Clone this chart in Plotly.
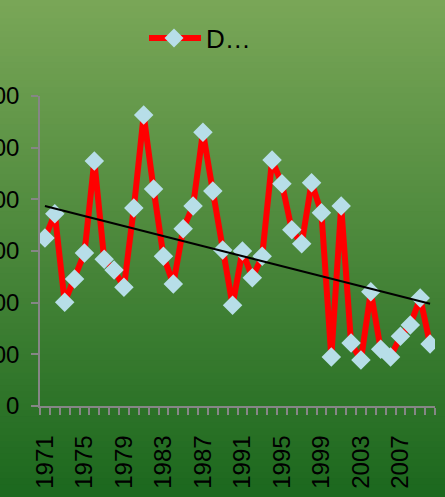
import numpy as np
import plotly.graph_objects as go

years = list(range(1971, 2011))
values = [325, 372, 201, 246, 296, 474, 284, 263, 230, 383,
          563, 420, 290, 236, 343, 387, 530, 416, 302, 195,
          300, 248, 290, 476, 430, 341, 314, 432, 374, 95,
          387, 122, 89, 221, 110, 95, 135, 157, 209, 120]
series_name = "D…"
x_tick_years = list(range(1971, 2011, 4))
y_ticks = [0, 100, 200, 300, 400, 500, 600]

# linear trend of the series
coef = np.polyfit(years, values, 1)
trend = np.polyval(coef, years)

W, H = 445, 497
ml, mr, mt, mb = 40, 10, 96, 91
pw, ph = W - ml - mr, H - mt - mb


def px_x(p):
    return (p - ml) / pw


def px_y(p):
    return (H - mb - p) / ph


fig = go.Figure()
fig.add_trace(go.Scatter(
    x=years, y=values, mode="lines+markers", name=series_name,
    line=dict(color="#ff0000", width=6),
    marker=dict(symbol="diamond", size=15, color="#b7dee8",
                line=dict(width=0)),
    showlegend=False,
))
fig.add_trace(go.Scatter(
    x=years, y=trend, mode="lines", showlegend=False,
    line=dict(color="#000000", width=2), hoverinfo="skip",
))

# vertical gradient background built from strips
top = np.array([122, 167, 88])
bot = np.array([28, 104, 30])
n = 80
shapes = []
for i in range(n):
    f0 = i / n
    f1 = (i + 1) / n
    c = top + (bot - top) * ((f0 + f1) / 2)
    py0 = f0 * H
    py1 = f1 * H + 1
    shapes.append(dict(
        type="rect", xref="paper", yref="paper", layer="below",
        x0=-ml / pw - 0.05, x1=1 + mr / pw + 0.05,
        y0=px_y(py0), y1=px_y(py1),
        fillcolor="rgb(%d,%d,%d)" % tuple(c.astype(int)),
        line=dict(width=0),
    ))

# legend (drawn by hand to match the long sample line)
ly = 38
shapes.append(dict(type="line", xref="paper", yref="paper",
                   x0=px_x(149), x1=px_x(201), y0=px_y(ly), y1=px_y(ly),
                   line=dict(color="#ff0000", width=6)))
cx, r = 174, 9.5
shapes.append(dict(type="path", xref="paper", yref="paper",
                   path="M %f %f L %f %f L %f %f L %f %f Z" % (
                       px_x(cx - r), px_y(ly), px_x(cx), px_y(ly - r),
                       px_x(cx + r), px_y(ly), px_x(cx), px_y(ly + r)),
                   fillcolor="#b7dee8", line=dict(width=0)))

font = dict(family="Liberation Sans, Arial, sans-serif", size=24, color="#000000")

fig.update_layout(
    width=W, height=H,
    margin=dict(l=ml, r=mr, t=mt, b=mb, autoexpand=False),
    paper_bgcolor="rgb(75,136,60)",
    plot_bgcolor="rgba(0,0,0,0)",
    shapes=shapes,
    font=font,
    annotations=[dict(text=series_name, xref="paper", yref="paper",
                      x=px_x(204), y=px_y(ly + 1), xanchor="left",
                      yanchor="middle", showarrow=False,
                      font=dict(size=26, color="#000000"))],
    xaxis=dict(
        range=[1970.5, 2010.5], tickmode="array", tickvals=x_tick_years,
        ticktext=[str(v) for v in x_tick_years], tickangle=-90,
        ticks="", showgrid=False, zeroline=False,
        showline=True, linecolor="#868686", linewidth=1.5,
        ticklabelstandoff=18,
        minor=dict(ticks="outside", tick0=1970.5, dtick=1, ticklen=7,
                   tickcolor="#868686", tickwidth=1.5, showgrid=False),
        fixedrange=True,
    ),
    yaxis=dict(
        range=[0, 600], tickmode="array", tickvals=y_ticks,
        ticks="outside", ticklen=7, tickcolor="#868686", tickwidth=1.5,
        showgrid=False, zeroline=False,
        showline=True, linecolor="#868686", linewidth=1.5,
        ticklabelstandoff=7,
        fixedrange=True,
    ),
)

fig.write_html("out.html")
